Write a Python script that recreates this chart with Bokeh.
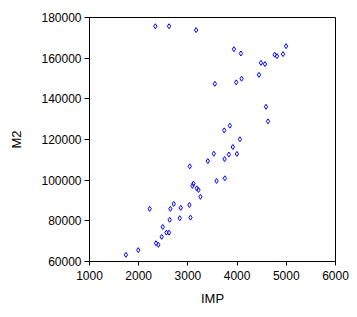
from bokeh.plotting import figure
from bokeh.models import FixedTicker, Range1d, BasicTickFormatter
from bokeh.embed import file_html
from bokeh.resources import INLINE

imp = [2338, 2617, 3167, 3935, 4077, 4995, 4764, 4811, 4933, 4485, 4567, 4444,
       4091, 3982, 3548, 4587, 4628, 3853, 3738, 4057, 3914, 3833, 3996, 3527,
       3405, 3745, 3038, 3582, 3751, 3113, 3092, 3181, 3215, 3255, 2712, 3031,
       2855, 2644, 2223, 2630, 2834, 3052, 2488, 2467, 2563, 2617, 2352, 2399,
       1992, 1740]
m2 = [175700, 175700, 173800, 164400, 162300, 165900, 161700, 161000, 162000,
      157700, 157100, 151800, 149900, 148100, 147400, 136100, 128900, 126800,
      124500, 120100, 116300, 112600, 112900, 113000, 109400, 110400, 106800,
      99600, 100900, 98300, 97200, 96000, 95200, 91800, 88300, 87800, 86400,
      85900, 85900, 80500, 81300, 81600, 77000, 72100, 74200, 74200, 69000,
      68200, 65600, 63300]
x_ticks = [1000, 2000, 3000, 4000, 5000, 6000]
y_ticks = [60000, 80000, 100000, 120000, 140000, 160000, 180000]

p = figure(width=357, height=317, output_backend="svg", toolbar_location=None,
           x_range=Range1d(1000, 6000), y_range=Range1d(60000, 180000),
           min_border_left=89, min_border_right=22, min_border_top=17,
           min_border_bottom=56)
p.background_fill_color = "white"
p.border_fill_color = "white"
p.outline_line_color = "black"
p.outline_line_width = 1
p.grid.visible = False

p.scatter(imp, m2, marker="diamond", size=5, fill_color=None,
          line_color="#0000ff", line_width=1)

for ax in (p.xaxis[0], p.yaxis[0]):
    ax.minor_tick_line_color = None
    ax.major_tick_in = 0
    ax.major_tick_out = 5
    ax.axis_line_color = "black"
    ax.major_tick_line_color = "black"
    ax.major_label_text_font = "Liberation Sans"
    ax.major_label_text_font_size = "12px"
    ax.major_label_text_color = "black"
    ax.axis_label_text_font = "Liberation Sans"
    ax.axis_label_text_font_size = "13px"
    ax.axis_label_text_font_style = "normal"
    ax.axis_label_text_color = "black"
    ax.formatter = BasicTickFormatter(use_scientific=False)

p.xaxis[0].ticker = FixedTicker(ticks=x_ticks)
p.yaxis[0].ticker = FixedTicker(ticks=y_ticks)
p.xaxis[0].major_tick_out = 4
p.xaxis[0].major_label_standoff = 5
p.yaxis[0].major_label_standoff = 3
p.xaxis[0].axis_label = "IMP"
p.yaxis[0].axis_label = "M2"
p.xaxis[0].axis_label_standoff = 8
p.yaxis[0].axis_label_standoff = 14

open("out.html", "w").write(file_html(p, INLINE))
